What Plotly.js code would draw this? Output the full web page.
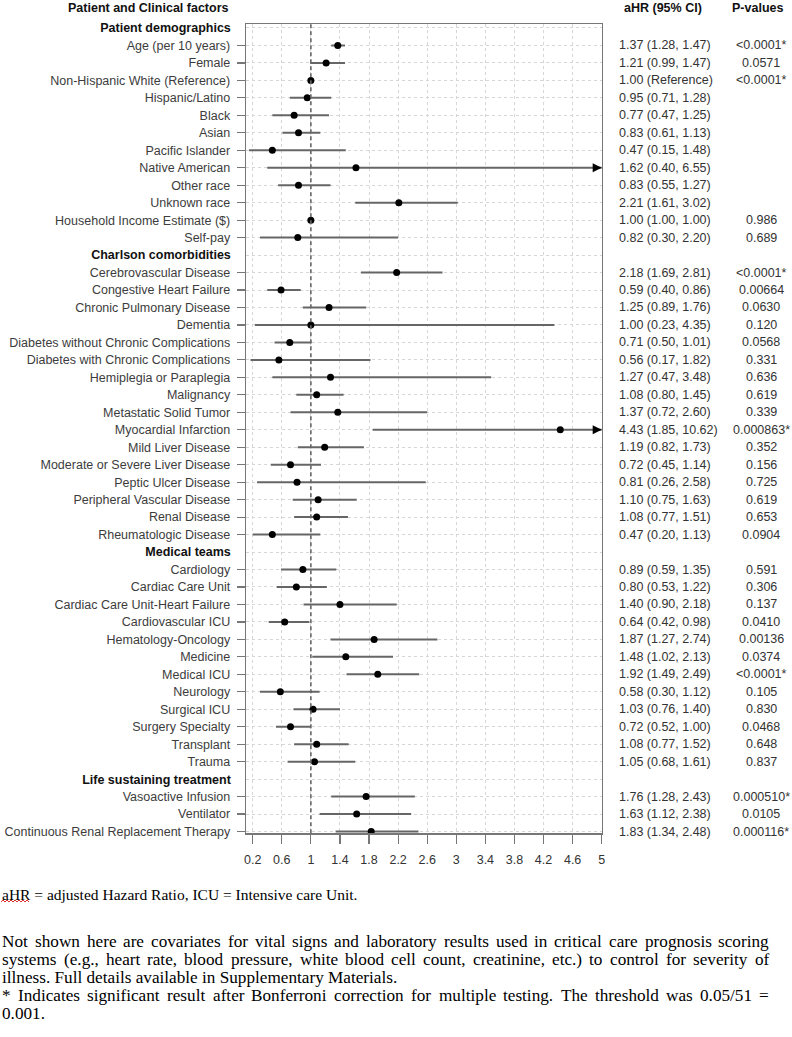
<!DOCTYPE html>
<html><head><meta charset="utf-8">
<script src="https://cdn.plot.ly/plotly-3.0.1.min.js"></script>
<style>html,body{margin:0;padding:0;background:#fff;}#chart{width:792px;height:1037px;}</style>
</head><body><div id="chart"></div>
<script>
// ---------------- DATA ----------------
const sectionHeaders = ["Patient demographics", "Charlson comorbidities", "Medical teams", "Life sustaining treatment"];
const sectionSizes = [12, 16, 12, 3];
const factors = [
  "Age (per 10 years)", "Female", "Non-Hispanic White (Reference)", "Hispanic/Latino", "Black", "Asian",
  "Pacific Islander", "Native American", "Other race", "Unknown race", "Household Income Estimate ($)", "Self-pay",
  "Cerebrovascular Disease", "Congestive Heart Failure", "Chronic Pulmonary Disease", "Dementia",
  "Diabetes without Chronic Complications", "Diabetes with Chronic Complications", "Hemiplegia or Paraplegia",
  "Malignancy", "Metastatic Solid Tumor", "Myocardial Infarction", "Mild Liver Disease",
  "Moderate or Severe Liver Disease", "Peptic Ulcer Disease", "Peripheral Vascular Disease", "Renal Disease",
  "Rheumatologic Disease",
  "Cardiology", "Cardiac Care Unit", "Cardiac Care Unit-Heart Failure", "Cardiovascular ICU",
  "Hematology-Oncology", "Medicine", "Medical ICU", "Neurology", "Surgical ICU", "Surgery Specialty",
  "Transplant", "Trauma",
  "Vasoactive Infusion", "Ventilator", "Continuous Renal Replacement Therapy"
];
const estimates = [
  1.37, 1.21, 1.00, 0.95, 0.77, 0.83, 0.47, 1.62, 0.83, 2.21, 1.00, 0.82,
  2.18, 0.59, 1.25, 1.00, 0.71, 0.56, 1.27, 1.08, 1.37, 4.43, 1.19, 0.72, 0.81, 1.10, 1.08, 0.47,
  0.89, 0.80, 1.40, 0.64, 1.87, 1.48, 1.92, 0.58, 1.03, 0.72, 1.08, 1.05,
  1.76, 1.63, 1.83
];
const lowerCI = [
  1.28, 0.99, null, 0.71, 0.47, 0.61, 0.15, 0.40, 0.55, 1.61, 1.00, 0.30,
  1.69, 0.40, 0.89, 0.23, 0.50, 0.17, 0.47, 0.80, 0.72, 1.85, 0.82, 0.45, 0.26, 0.75, 0.77, 0.20,
  0.59, 0.53, 0.90, 0.42, 1.27, 1.02, 1.49, 0.30, 0.76, 0.52, 0.77, 0.68,
  1.28, 1.12, 1.34
];
const upperCI = [
  1.47, 1.47, null, 1.28, 1.25, 1.13, 1.48, 6.55, 1.27, 3.02, 1.00, 2.20,
  2.81, 0.86, 1.76, 4.35, 1.01, 1.82, 3.48, 1.45, 2.60, 10.62, 1.73, 1.14, 2.58, 1.63, 1.51, 1.13,
  1.35, 1.22, 2.18, 0.98, 2.74, 2.13, 2.49, 1.12, 1.40, 1.00, 1.52, 1.61,
  2.43, 2.38, 2.48
];
const pValues = [
  "<0.0001*", "0.0571", "<0.0001*", "", "", "", "", "", "", "", "0.986", "0.689",
  "<0.0001*", "0.00664", "0.0630", "0.120", "0.0568", "0.331", "0.636", "0.619", "0.339", "0.000863*",
  "0.352", "0.156", "0.725", "0.619", "0.653", "0.0904",
  "0.591", "0.306", "0.137", "0.0410", "0.00136", "0.0374", "<0.0001*", "0.105", "0.830", "0.0468",
  "0.648", "0.837",
  "0.000510*", "0.0105", "0.000116*"
];
const xTickVals = [0.2, 0.6, 1, 1.4, 1.8, 2.2, 2.6, 3, 3.4, 3.8, 4.2, 4.6, 5];
const xTickText = ["0.2", "0.6", "1", "1.4", "1.8", "2.2", "2.6", "3", "3.4", "3.8", "4.2", "4.6", "5"];
const refValue = 1;
const columnTitles = ["Patient and Clinical factors", "aHR (95% CI)", "P-values"];
const footnotes = [
  "aHR = adjusted Hazard Ratio, ICU = Intensive care Unit.",
  "Not shown here are covariates for vital signs and laboratory results used in critical care prognosis scoring",
  "systems (e.g., heart rate, blood pressure, white blood cell count, creatinine, etc.) to control for severity of",
  "illness. Full details available in Supplementary Materials.",
  "* Indicates significant result after Bonferroni correction for multiple testing. The threshold was 0.05/51 =",
  "0.001."
];
const footnoteJustified = [false, true, true, false, true, false];

// ---------------- LAYOUT HELPERS ----------------
const W = 792, H = 1037;
const px = v => v / W;
const py = v => 1 - v / H;
const XMIN = 0.112, XMAX = 5;
const SANS = "'Liberation Sans', Arial, sans-serif";
const SERIF = "'Liberation Serif', 'Times New Roman', serif";
const FOOT_SIZES = [15.5, 17.2, 17.2, 17.2, 17.2, 17.2];

// row positions
const headerRows = [], factorRows = [];
let r = 1;
sectionSizes.forEach(n => { headerRows.push(r++); for (let k = 0; k < n; k++) factorRows.push(r++); });
const yRange = [r - 1 + 0.1, 0.79];

const hrLabels = estimates.map((e, i) => lowerCI[i] === null
  ? e.toFixed(2) + " (Reference)"
  : e.toFixed(2) + " (" + lowerCI[i].toFixed(2) + ", " + upperCI[i].toFixed(2) + ")");
const errPlus = estimates.map((e, i) => upperCI[i] === null ? NaN : upperCI[i] - e);
const errMinus = estimates.map((e, i) => lowerCI[i] === null ? NaN : e - lowerCI[i]);

const traces = [
  {
    type: "scatter", mode: "markers", x: estimates, y: factorRows,
    marker: { color: "#000", size: 7, symbol: "circle" },
    error_x: { type: "data", symmetric: false, array: errPlus, arrayminus: errMinus,
               color: "#666", thickness: 2, width: 0 },
    hoverinfo: "skip", showlegend: false
  },
  {
    type: "scatter", mode: "markers", x: headerRows.map(() => refValue), y: headerRows, yaxis: "y2",
    marker: { opacity: 0, size: 1 }, hoverinfo: "skip", showlegend: false
  }
];

const gridStyle = { showgrid: true, gridcolor: "#d6d6d6", gridwidth: 1, griddash: "3px,3px" };

const annotations = [];
// right-hand columns
factorRows.forEach((row, i) => {
  annotations.push({ xref: "paper", yref: "y", x: px(617), y: row, xanchor: "left", yanchor: "middle",
    text: hrLabels[i], showarrow: false, font: { family: SANS, size: 12.5, color: "#333" } });
  if (pValues[i]) annotations.push({ xref: "paper", yref: "y", x: px(761), y: row, xanchor: "center", yanchor: "middle",
    text: pValues[i], showarrow: false, font: { family: SANS, size: 12.5, color: "#333" } });
  if (upperCI[i] !== null && upperCI[i] > XMAX) {
    annotations.push({ xref: "x", yref: "y", x: XMAX, y: row, text: "", showarrow: true,
      ax: -10, ay: 0, arrowhead: 2, arrowsize: 0.9, arrowwidth: 2, arrowcolor: "#000", standoff: 0 });
  }
});
// column titles
annotations.push({ xref: "paper", yref: "paper", x: px(231), y: py(8), xanchor: "right", yanchor: "middle",
  text: "<b>" + columnTitles[0] + "</b>", showarrow: false, font: { family: SANS, size: 12.5, color: "#111" } });
annotations.push({ xref: "paper", yref: "paper", x: px(663), y: py(8), xanchor: "center", yanchor: "middle",
  text: "<b>" + columnTitles[1] + "</b>", showarrow: false, font: { family: SANS, size: 12.5, color: "#111" } });
annotations.push({ xref: "paper", yref: "paper", x: px(757), y: py(8), xanchor: "center", yanchor: "middle",
  text: "<b>" + columnTitles[2] + "</b>", showarrow: false, font: { family: SANS, size: 12.5, color: "#111" } });

// footnotes (justified lines are laid out word by word)
const measureCtx = document.createElement("canvas").getContext("2d");
const FOOT_LEFT = 0, FOOT_RIGHT = 767;
const footY = [894, 941, 959.5, 977.5, 995.5, 1013];
footnotes.forEach((t, i) => {
  const fnt = { family: SERIF, size: FOOT_SIZES[i], color: "#000" };
  if (!footnoteJustified[i]) {
    annotations.push({ xref: "paper", yref: "paper", x: px(FOOT_LEFT), y: py(footY[i]), xanchor: "left", yanchor: "middle",
      text: t, showarrow: false, font: fnt });
    return;
  }
  measureCtx.font = FOOT_SIZES[i] + "px 'Liberation Serif', 'Times New Roman', serif";
  const words = t.split(" ");
  const widths = words.map(w => measureCtx.measureText(w).width);
  const total = widths.reduce((a, b) => a + b, 0);
  const gap = Math.max(3, (FOOT_RIGHT - FOOT_LEFT - total) / (words.length - 1));
  let cx = FOOT_LEFT;
  words.forEach((w, k) => {
    annotations.push({ xref: "paper", yref: "paper", x: px(cx), y: py(footY[i]), xanchor: "left", yanchor: "middle",
      text: w, showarrow: false, font: fnt });
    cx += widths[k] + gap;
  });
});

// red spell-check squiggle under "aHR"
let sq = "";
for (let k = 0; k <= 14; k++) {
  const xx = 1 + k * 2, yy = 901 + (k % 2 === 0 ? 1 : -1);
  sq += (k === 0 ? "M " : " L ") + px(xx) + " " + py(yy);
}

const shapes = [
  { type: "line", xref: "x", yref: "y domain", x0: refValue, x1: refValue, y0: 0, y1: 1,
    line: { color: "#666", width: 1.6, dash: "4px,3px" } },
  { type: "path", xref: "paper", yref: "paper", path: sq, line: { color: "#e03030", width: 1 } }
];

const layout = {
  width: W, height: H,
  margin: { l: 0, r: 0, t: 0, b: 0 },
  paper_bgcolor: "#fff", plot_bgcolor: "#fff",
  font: { family: SANS, color: "#333" },
  showlegend: false,
  hovermode: false,
  xaxis: Object.assign({
    domain: [px(246.3), px(601.7)], range: [XMIN, XMAX], autorange: false,
    tickmode: "array", tickvals: xTickVals, ticktext: xTickText,
    ticks: "outside", ticklen: 9, tickwidth: 1.2, tickcolor: "#777", ticklabelstandoff: 5,
    tickfont: { family: SANS, size: 12.5, color: "#333" },
    showline: true, mirror: true, linecolor: "#777", linewidth: 1.6, zeroline: false, anchor: "y"
  }, gridStyle),
  yaxis: Object.assign({
    domain: [py(833.3), py(24.3)], range: yRange, autorange: false,
    tickmode: "array", tickvals: factorRows, ticktext: factors,
    ticks: "outside", ticklen: 8, tickwidth: 1.2, tickcolor: "#777", ticklabelstandoff: 4,
    tickfont: { family: SANS, size: 12.5, color: "#3c3c3c" },
    showline: true, mirror: true, linecolor: "#777", linewidth: 1.6, zeroline: false, anchor: "x"
  }, gridStyle),
  yaxis2: Object.assign({
    overlaying: "y", anchor: "x", side: "left", range: yRange, autorange: false,
    tickmode: "array", tickvals: headerRows, ticktext: sectionHeaders.map(h => "<b>" + h + "</b>"),
    ticks: "outside", ticklen: 8, tickcolor: "rgba(0,0,0,0)", ticklabelstandoff: 4,
    tickfont: { family: SANS, size: 12.5, color: "#111" },
    showline: false, zeroline: false
  }, gridStyle),
  annotations: annotations,
  shapes: shapes
};

Plotly.newPlot("chart", traces, layout, { displayModeBar: false, staticPlot: true });
</script>
</body></html>
